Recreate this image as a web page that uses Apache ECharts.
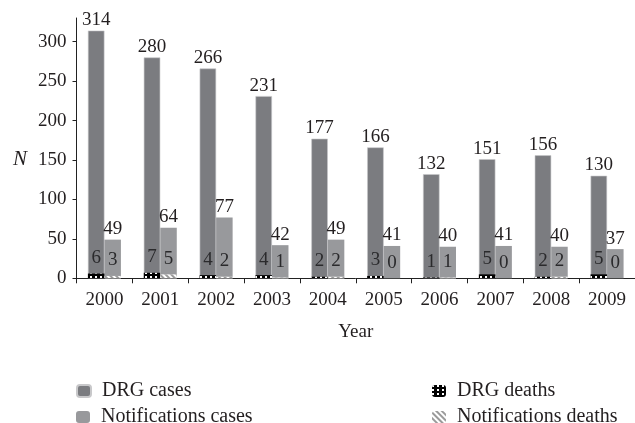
<!DOCTYPE html>
<html>
<head>
<meta charset="utf-8">
<script src="https://cdn.jsdelivr.net/npm/echarts@6/dist/echarts.min.js"></script>
<style>html,body{margin:0;padding:0;background:#fff;}#c{width:635px;height:423px;}</style>
</head>
<body>
<div id="c"></div>
<script>
const years = ['2000','2001','2002','2003','2004','2005','2006','2007','2008','2009'];
const drgCases = [314,280,266,231,177,166,132,151,156,130];
const notifCases = [49,64,77,42,49,41,40,41,40,37];
const drgDeaths = [6,7,4,4,2,3,1,5,2,5];
const notifDeaths = [3,5,2,1,2,0,1,0,2,0];
const yTicks = {min:0, max:330, interval:50};

const FONT = 'Liberation Serif';
const TXT = '#231f20';
const chart = echarts.init(document.getElementById('c'), null, {renderer:'canvas'});
const lbl = (dist) => ({show:true, position:'top', distance:dist, color:TXT, fontFamily:FONT, fontSize:19});
const drgDecal = {symbol:'rect', symbolSize:1, color:'#ffffff', dashArrayX:[2,3], dashArrayY:[2,2]};
const notDecal = {symbol:'rect', symbolSize:1, color:'#9a9a9a', dashArrayX:[1,0], dashArrayY:[2,2], rotation:Math.PI/4};
const leg = (name, left, top) => ({orient:'horizontal', left:left, top:top, itemWidth:14, itemHeight:12, itemGap:6,
  textStyle:{fontFamily:FONT, fontSize:20, color:TXT, padding:[0,0,0,6]}, data:[name]});
chart.setOption({
  animation:false,
  textStyle:{fontFamily:FONT},
  grid:{left:76.5, top:18, width:566, height:260.3},
  graphic:[{type:'text', left:13, top:149, style:{text:'N', fontFamily:FONT, fontSize:21, fontStyle:'italic', fill:TXT}}],
  legend:[
    leg('DRG cases', 71, 376),
    leg('Notifications cases', 71, 402),
    leg('DRG deaths', 427, 376),
    leg('Notifications deaths', 427, 402)
  ],
  xAxis:[
    {type:'category', data:years, name:'Year', nameLocation:'middle', nameGap:44,
     nameTextStyle:{fontFamily:FONT, fontSize:19, color:TXT},
     axisLine:{lineStyle:{color:'#222', width:1}},
     axisTick:{show:true, length:5, lineStyle:{color:'#222'}},
     axisLabel:{fontFamily:FONT, fontSize:19, color:TXT, margin:12}},
    {type:'category', data:years, show:false}
  ],
  yAxis:{type:'value', min:yTicks.min, max:yTicks.max, interval:yTicks.interval,
    axisLine:{show:true, lineStyle:{color:'#222', width:1}},
    axisTick:{show:true, length:4, lineStyle:{color:'#222'}},
    splitLine:{show:false},
    axisLabel:{fontFamily:FONT, fontSize:19, color:TXT, margin:10, showMaxLabel:false}},
  series:[
    {name:'DRG cases', type:'bar', xAxisIndex:0, data:drgCases, barWidth:16.5, barGap:'0%',
     itemStyle:{color:'#7b7c80', borderColor:'#c8c8ca', borderWidth:0.6}, label:lbl(1)},
    {name:'Notifications cases', type:'bar', xAxisIndex:0, data:notifCases, barWidth:16.5, barGap:'0%',
     itemStyle:{color:'#98999c'}, label:lbl(1)},
    {name:'DRG deaths', type:'bar', xAxisIndex:1, data:drgDeaths, barWidth:16.5, barGap:'0%',
     itemStyle:{color:'#000', decal:drgDecal}, label:Object.assign(lbl(6),{color:'#2a2a2c'})},
    {name:'Notifications deaths', type:'bar', xAxisIndex:1, data:notifDeaths, barWidth:16.5, barGap:'0%',
     itemStyle:{color:'#ffffff', decal:notDecal}, label:Object.assign(lbl(6),{color:'#2a2a2c'})}
  ]
});
</script>
</body>
</html>
